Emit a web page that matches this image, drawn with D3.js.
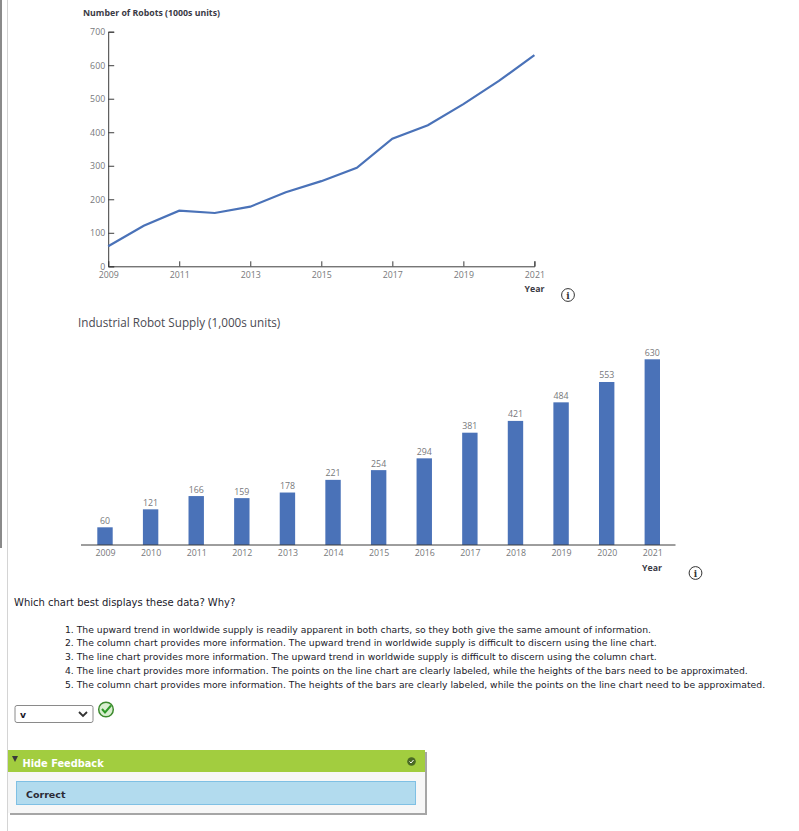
<!DOCTYPE html>
<html><head><meta charset="utf-8">
<script src="https://cdn.jsdelivr.net/npm/d3@7"></script>
<style>
html,body{margin:0;padding:0;background:#fff;overflow:hidden}
svg{display:block}
.c{font-family:"Open Sans",sans-serif;fill:#77787b;font-size:8.8px}
.b{font-family:"Open Sans",sans-serif;fill:#3a3a45;font-size:8.75px;font-weight:700}
.q{font-family:"DejaVu Sans",sans-serif;fill:#1a1a2a;font-size:9.23px}
</style></head><body>
<svg id="s" width="799" height="831"></svg>
<script>
const years=[2009,2010,2011,2012,2013,2014,2015,2016,2017,2018,2019,2020,2021];
const supply=[60,121,166,159,178,221,254,294,381,421,484,553,630];
const yTicks=[0,100,200,300,400,500,600,700];
const lineTicks=[2009,2011,2013,2015,2017,2019,2021];
const options=[
"1. The upward trend in worldwide supply is readily apparent in both charts, so they both give the same amount of information.",
"2. The column chart provides more information. The upward trend in worldwide supply is difficult to discern using the line chart.",
"3. The line chart provides more information. The upward trend in worldwide supply is difficult to discern using the column chart.",
"4. The line chart provides more information. The points on the line chart are clearly labeled, while the heights of the bars need to be approximated.",
"5. The column chart provides more information. The heights of the bars are clearly labeled, while the points on the line chart need to be approximated."];
const blue="#4a72b8", axisC="#3c3c3c";
const svg=d3.select("#s");

// page chrome
svg.append("rect").attr("x",0).attr("y",0).attr("width",2).attr("height",548).attr("fill","#8a8a8a");
svg.append("rect").attr("x",7).attr("y",0).attr("width",1).attr("height",831).attr("fill","#d4d4d4");

// line chart
const x1=d3.scaleLinear().domain([2009,2021]).range([108.2,534.4]);
const y1=d3.scaleLinear().domain([0,700]).range([266.3,31.7]);
svg.append("text").attr("class","b").attr("x",83).attr("y",16).text("Number of Robots (1000s units)");
const gy=svg.append("g").attr("transform","translate(108.2,0)").call(d3.axisLeft(y1).tickValues(yTicks).tickSize(-6).tickPadding(3).tickFormat(d3.format("d")));
gy.selectAll("text").attr("class","c").attr("font-family",null).attr("font-size",null).attr("x",-3);
const gx=svg.append("g").attr("transform","translate(0,266.3)").call(d3.axisBottom(x1).tickValues(lineTicks).tickSize(-5).tickPadding(3).tickFormat(d3.format("d")));
gx.selectAll("text").attr("class","c").attr("font-family",null).attr("font-size",null).attr("y",5);
svg.selectAll(".domain").attr("stroke",axisC).attr("stroke-width",1);
svg.selectAll(".tick line").attr("stroke",axisC);
svg.append("path").datum(years.map((y,i)=>[y,supply[i]]))
 .attr("d",d3.line().x(d=>x1(d[0])).y(d=>y1(d[1])))
 .attr("fill","none").attr("stroke",blue).attr("stroke-width",2.2);
svg.append("text").attr("class","b").attr("x",534.5).attr("y",292).attr("text-anchor","middle").text("Year");

// info icons
function info(cx,cy){
 const g=svg.append("g");
 g.append("circle").attr("cx",cx).attr("cy",cy).attr("r",6.4).attr("fill","none").attr("stroke","#333").attr("stroke-width",1);
 g.append("text").attr("x",cx).attr("y",cy+3.5).attr("text-anchor","middle").attr("font-family","DejaVu Serif").attr("font-weight","700").attr("font-size",9).attr("fill","#333").text("i");
}
info(568,295); info(695.5,573);

// column chart
svg.append("text").attr("x",78).attr("y",327).attr("font-family","Open Sans").attr("font-size",11.7).attr("fill","#4a4a52").text("Industrial Robot Supply (1,000s units)");
const x2=d3.scalePoint().domain(years).range([105,652.3]);
const y2=d3.scaleLinear().domain([0,630]).range([545,359.3]);
svg.selectAll("rect.bar").data(years).join("rect").attr("class","bar")
 .attr("x",d=>x2(d)-7.7).attr("width",15.4)
 .attr("y",(d,i)=>y2(supply[i])).attr("height",(d,i)=>545-y2(supply[i])).attr("fill",blue);
svg.selectAll("text.val").data(years).join("text").attr("class","c val")
 .attr("x",d=>x2(d)).attr("y",(d,i)=>y2(supply[i])-3.5).attr("text-anchor","middle").text((d,i)=>supply[i]);
const gb=svg.append("g").attr("transform","translate(0,545)").call(d3.axisBottom(x2).tickSize(0).tickPadding(0));
gb.select(".domain").remove();
gb.selectAll("text").attr("class","c").attr("font-family",null).attr("font-size",null).attr("y",4.5);
svg.append("line").attr("x1",81).attr("x2",675.5).attr("y1",545).attr("y2",545).attr("stroke",axisC).attr("stroke-width",1);
svg.append("text").attr("class","b").attr("x",652).attr("y",571).attr("text-anchor","middle").text("Year");

// question
svg.append("text").attr("class","q").attr("x",14).attr("y",606).attr("font-size",10).style("font-size","10px").text("Which chart best displays these data? Why?");
svg.selectAll("text.opt").data(options).join("text").attr("class","q opt")
 .attr("x",65).attr("y",(d,i)=>632.5+i*13.9).text(d=>d);

// dropdown
svg.append("rect").attr("x",15).attr("y",705.5).attr("width",78).attr("height",17).attr("rx",2).attr("fill","#fff").attr("stroke","#8a8a8a");
svg.append("text").attr("class","q").attr("x",20).attr("y",718).attr("font-weight","700").text("v");
svg.append("path").attr("d","M79 712l4 4 4-4").attr("fill","none").attr("stroke","#333").attr("stroke-width",1.8);
svg.append("circle").attr("cx",106).attr("cy",709.5).attr("r",7.3).attr("fill","#d9efd0").attr("stroke","#3d8a2e").attr("stroke-width",1.5);
svg.append("path").attr("d","M102 709l3 3.5 6-7").attr("fill","none").attr("stroke","#2f9a28").attr("stroke-width",2);

// feedback panel
svg.append("rect").attr("x",10).attr("y",752).attr("width",417).attr("height",63).attr("fill","#a6a6a6");
svg.append("rect").attr("x",8).attr("y",750).attr("width",417).attr("height",63).attr("fill","#f7f7f7");
svg.append("rect").attr("x",8).attr("y",750).attr("width",417).attr("height",22).attr("fill","#a2cd3f");
svg.append("path").attr("d","M12 756h6l-3 6z").attr("fill","#3a3a3a");
svg.append("text").attr("x",22.5).attr("y",767).attr("font-family","DejaVu Sans").attr("font-weight","700").attr("font-size",9.8).attr("fill","#fff").text("Hide Feedback");
svg.append("circle").attr("cx",411.5).attr("cy",761.5).attr("r",4.3).attr("fill","#4a6a25");
svg.append("path").attr("d","M409.5 761.5l1.5 1.5 2.5-3").attr("fill","none").attr("stroke","#fff").attr("stroke-width",1);
svg.append("rect").attr("x",16.5).attr("y",781.5).attr("width",399).attr("height",23).attr("fill","#b2dbee").attr("stroke","#7fc0e4");
svg.append("text").attr("x",26).attr("y",798).attr("font-family","DejaVu Sans").attr("font-weight","700").attr("font-size",9.5).attr("fill","#2a2a35").text("Correct");
</script></body></html>
